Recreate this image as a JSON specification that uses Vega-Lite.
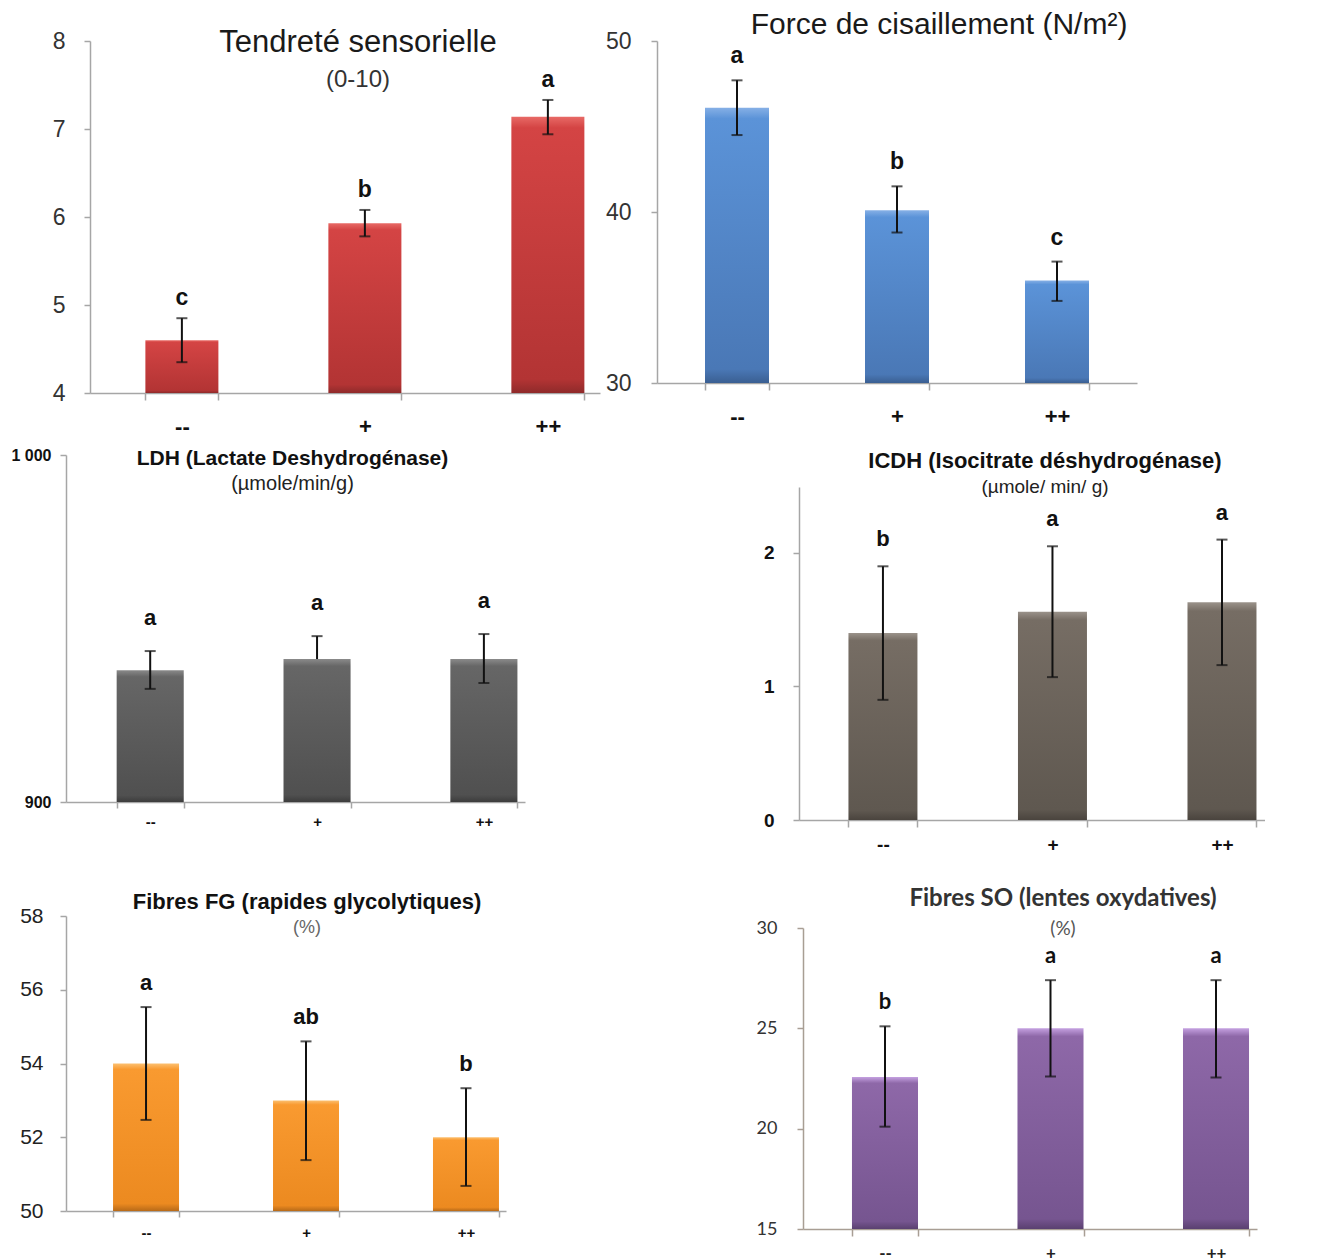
{
  "$schema": "https://vega.github.io/schema/vega-lite/v6.json",
  "background": "white",
  "padding": {"left": 10, "top": 10, "right": 0, "bottom": 0},
  "config": {
    "view": {"stroke": null},
    "axis": {"grid": false, "domainColor": "#a6a6a6", "tickColor": "#a6a6a6", "domainWidth": 1.5, "tickWidth": 1.5, "labelFont": "Liberation Sans", "labelColor": "#222", "labelOverlap": false},
    "title": {"anchor": "middle", "frame": "group", "font": "Liberation Sans", "subtitleFont": "Liberation Sans"}
  },
  "datasets": {
    "tend": [
      {"g": "--", "v": 4.6, "lo": 4.35, "hi": 4.85, "l": "c"},
      {"g": "+", "v": 5.93, "lo": 5.78, "hi": 6.08, "l": "b"},
      {"g": "++", "v": 7.14, "lo": 6.94, "hi": 7.33, "l": "a"}
    ],
    "force": [
      {"g": "--", "v": 46.1, "lo": 44.5, "hi": 47.7, "l": "a"},
      {"g": "+", "v": 40.1, "lo": 38.8, "hi": 41.5, "l": "b"},
      {"g": "++", "v": 36.0, "lo": 34.8, "hi": 37.1, "l": "c"}
    ],
    "ldh": [
      {"g": "--", "v": 938.0, "lo": 932.6, "hi": 943.5, "l": "a"},
      {"g": "+", "v": 941.2, "lo": 941.2, "hi": 947.8, "l": "a"},
      {"g": "++", "v": 941.2, "lo": 934.3, "hi": 948.4, "l": "a"}
    ],
    "icdh": [
      {"g": "--", "v": 1.40, "lo": 0.90, "hi": 1.90, "l": "b"},
      {"g": "+", "v": 1.56, "lo": 1.07, "hi": 2.05, "l": "a"},
      {"g": "++", "v": 1.63, "lo": 1.16, "hi": 2.10, "l": "a"}
    ],
    "fg": [
      {"g": "--", "v": 54.0, "lo": 52.47, "hi": 55.53, "l": "a"},
      {"g": "+", "v": 53.0, "lo": 51.38, "hi": 54.6, "l": "ab"},
      {"g": "++", "v": 52.0, "lo": 50.68, "hi": 53.33, "l": "b"}
    ],
    "so": [
      {"g": "--", "v": 22.57, "lo": 20.1, "hi": 25.1, "l": "b"},
      {"g": "+", "v": 25.0, "lo": 22.6, "hi": 27.4, "l": "a"},
      {"g": "++", "v": 25.0, "lo": 22.55, "hi": 27.4, "l": "a"}
    ]
  },
  "bounds": "flush",
  "align": "each",
  "columns": 2,
  "spacing": {"row": 62, "column": 57},
  "concat": [
    {
      "width": 534, "height": 352,
      "data": {"name": "tend"},
      "title": {"text": "Tendreté sensorielle", "subtitle": "(0-10)", "fontSize": 31, "fontWeight": "normal", "color": "#1a1a1a", "subtitleFontSize": 24, "subtitleColor": "#333", "subtitlePadding": 9, "offset": -63, "dx": 25},
      "encoding": {
        "x": {"field": "g", "type": "nominal", "sort": ["--", "+", "++"], "title": null,
          "scale": {"range": [24, 534], "paddingInner": 0.601, "paddingOuter": 0.194, "align": 0.78},
          "axis": {"labelAngle": 0, "labelFontSize": 22, "labelFontWeight": "bold", "labelColor": "#111", "tickBand": "extent", "tickSize": 7, "labelPadding": 16}}
      },
      "layer": [
        {"mark": {"type": "bar", "color": {"gradient": "linear", "x1": 0, "y1": 0, "x2": 0, "y2": 1, "stops": [{"offset": 0, "color": "#e86a66"}, {"offset": 0.04, "color": "#d44444"}, {"offset": 0.95, "color": "#b33434"}, {"offset": 1, "color": "#8f2a2a"}]}},
          "encoding": {"y": {"field": "v", "type": "quantitative", "title": null, "scale": {"domain": [4, 8], "zero": false, "nice": false},
            "axis": {"values": [4, 5, 6, 7, 8], "format": "d", "offset": -24, "labelFontSize": 23, "labelColor": "#333", "tickSize": 6, "labelPadding": 19}},
            "y2": {"datum": 4}}},
        {"mark": {"type": "rule", "color": "#111", "strokeWidth": 2}, "encoding": {"y": {"field": "lo", "type": "quantitative", "title": null}, "y2": {"field": "hi"}}},
        {"mark": {"type": "tick", "color": "#111", "size": 11, "thickness": 2}, "encoding": {"y": {"field": "lo", "type": "quantitative", "title": null}}},
        {"mark": {"type": "tick", "color": "#111", "size": 11, "thickness": 2}, "encoding": {"y": {"field": "hi", "type": "quantitative", "title": null}}},
        {"mark": {"type": "text", "font": "Liberation Sans", "fontSize": 23, "fontWeight": "bold", "color": "#111", "dy": -20}, "encoding": {"y": {"field": "hi", "type": "quantitative", "title": null}, "text": {"field": "l"}}}
      ]
    },
    {
      "width": 480, "height": 342,
      "data": {"name": "force"},
      "title": {"text": "Force de cisaillement (N/m²)", "fontSize": 30, "fontWeight": "normal", "color": "#1a1a1a", "offset": -10, "dx": 42},
      "encoding": {
        "x": {"field": "g", "type": "nominal", "sort": ["--", "+", "++"], "title": null,
          "scale": {"paddingInner": 0.6, "paddingOuter": 0.3},
          "axis": {"labelAngle": 0, "labelFontSize": 22, "labelFontWeight": "bold", "labelColor": "#111", "tickBand": "extent", "tickSize": 7, "labelPadding": 16}}
      },
      "layer": [
        {"mark": {"type": "bar", "color": {"gradient": "linear", "x1": 0, "y1": 0, "x2": 0, "y2": 1, "stops": [{"offset": 0, "color": "#86b0e6"}, {"offset": 0.04, "color": "#5b93d8"}, {"offset": 0.95, "color": "#4a78b6"}, {"offset": 1, "color": "#3a5f92"}]}},
          "encoding": {"y": {"field": "v", "type": "quantitative", "title": null, "scale": {"domain": [30, 50], "zero": false, "nice": false},
            "axis": {"values": [30, 40, 50], "format": "d", "labelFontSize": 23, "labelColor": "#333", "tickSize": 6, "labelPadding": 20}},
            "y2": {"datum": 30}}},
        {"mark": {"type": "rule", "color": "#111", "strokeWidth": 2}, "encoding": {"y": {"field": "lo", "type": "quantitative", "title": null}, "y2": {"field": "hi"}}},
        {"mark": {"type": "tick", "color": "#111", "size": 11, "thickness": 2}, "encoding": {"y": {"field": "lo", "type": "quantitative", "title": null}}},
        {"mark": {"type": "tick", "color": "#111", "size": 11, "thickness": 2}, "encoding": {"y": {"field": "hi", "type": "quantitative", "title": null}}},
        {"mark": {"type": "text", "font": "Liberation Sans", "fontSize": 23, "fontWeight": "bold", "color": "#111", "dy": -24}, "encoding": {"y": {"field": "hi", "type": "quantitative", "title": null}, "text": {"field": "l"}}}
      ]
    },
    {
      "width": 459, "height": 347,
      "data": {"name": "ldh"},
      "title": {"text": "LDH (Lactate Deshydrogénase)", "subtitle": "(µmole/min/g)", "fontSize": 21, "fontWeight": "bold", "color": "#111", "subtitleFontSize": 20, "subtitleColor": "#222", "subtitlePadding": 5, "offset": -47, "dx": -3},
      "encoding": {
        "x": {"field": "g", "type": "nominal", "sort": ["--", "+", "++"], "title": null,
          "scale": {"paddingInner": 0.598, "paddingOuter": 0.1745, "align": 0.87},
          "axis": {"labelAngle": 0, "labelFontSize": 15, "labelFontWeight": "bold", "labelColor": "#111", "tickBand": "extent", "tickSize": 6, "labelPadding": 6}}
      },
      "layer": [
        {"mark": {"type": "bar", "color": {"gradient": "linear", "x1": 0, "y1": 0, "x2": 0, "y2": 1, "stops": [{"offset": 0, "color": "#8a8a8a"}, {"offset": 0.05, "color": "#666666"}, {"offset": 0.95, "color": "#505050"}, {"offset": 1, "color": "#3c3c3c"}]}},
          "encoding": {"y": {"field": "v", "type": "quantitative", "title": null, "scale": {"domain": [900, 1000], "zero": false, "nice": false},
            "axis": {"values": [900, 1000], "format": "d", "labelExpr": "datum.value == 1000 ? '1 000' : datum.label", "labelFontSize": 16, "labelFontWeight": "bold", "labelColor": "#111", "tickSize": 6, "labelPadding": 9}},
            "y2": {"datum": 900}}},
        {"mark": {"type": "rule", "color": "#111", "strokeWidth": 2}, "encoding": {"y": {"field": "lo", "type": "quantitative", "title": null}, "y2": {"field": "hi"}}},
        {"transform": [{"filter": "datum.lo < datum.v"}], "mark": {"type": "tick", "color": "#111", "size": 11, "thickness": 2}, "encoding": {"y": {"field": "lo", "type": "quantitative", "title": null}}},
        {"mark": {"type": "tick", "color": "#111", "size": 11, "thickness": 2}, "encoding": {"y": {"field": "hi", "type": "quantitative", "title": null}}},
        {"mark": {"type": "text", "font": "Liberation Sans", "fontSize": 22, "fontWeight": "bold", "color": "#111", "dy": -33}, "encoding": {"y": {"field": "hi", "type": "quantitative", "title": null}, "text": {"field": "l"}}}
      ]
    },
    {
      "width": 608, "height": 365,
      "data": {"name": "icdh"},
      "title": {"text": "ICDH (Isocitrate déshydrogénase)", "subtitle": "(µmole/ min/ g)", "fontSize": 22, "fontWeight": "bold", "color": "#111", "subtitleFontSize": 19, "subtitleColor": "#222", "subtitlePadding": 5, "offset": -43, "dx": 84},
      "encoding": {
        "x": {"field": "g", "type": "nominal", "sort": ["--", "+", "++"], "title": null,
          "scale": {"range": [142, 608], "paddingInner": 0.593, "paddingOuter": 0.171, "align": 0.853},
          "axis": {"labelAngle": 0, "labelFontSize": 19, "labelFontWeight": "bold", "labelColor": "#111", "tickBand": "extent", "tickSize": 7, "labelPadding": 8}}
      },
      "layer": [
        {"mark": {"type": "bar", "color": {"gradient": "linear", "x1": 0, "y1": 0, "x2": 0, "y2": 1, "stops": [{"offset": 0, "color": "#9a928a"}, {"offset": 0.04, "color": "#766d64"}, {"offset": 0.95, "color": "#5f5850"}, {"offset": 1, "color": "#4a443e"}]}},
          "encoding": {"y": {"field": "v", "type": "quantitative", "title": null, "scale": {"domain": [0, 2.494], "range": [365, 32], "zero": false, "nice": false},
            "axis": {"values": [0, 1, 2], "format": "d", "offset": -142, "labelFontSize": 19, "labelFontWeight": "bold", "labelColor": "#111", "tickSize": 6, "labelPadding": 19}},
            "y2": {"datum": 0}}},
        {"mark": {"type": "rule", "color": "#111", "strokeWidth": 2}, "encoding": {"y": {"field": "lo", "type": "quantitative", "title": null}, "y2": {"field": "hi"}}},
        {"mark": {"type": "tick", "color": "#111", "size": 11, "thickness": 2}, "encoding": {"y": {"field": "lo", "type": "quantitative", "title": null}}},
        {"mark": {"type": "tick", "color": "#111", "size": 11, "thickness": 2}, "encoding": {"y": {"field": "hi", "type": "quantitative", "title": null}}},
        {"mark": {"type": "text", "font": "Liberation Sans", "fontSize": 22, "fontWeight": "bold", "color": "#111", "dy": -27}, "encoding": {"y": {"field": "hi", "type": "quantitative", "title": null}, "text": {"field": "l"}}}
      ]
    },
    {
      "width": 440, "height": 329,
      "data": {"name": "fg"},
      "title": {"text": "Fibres FG (rapides glycolytiques)", "subtitle": "(%)", "fontSize": 22, "fontWeight": "bold", "color": "#111", "subtitleFontSize": 18, "subtitleColor": "#666", "subtitlePadding": 5, "offset": -56, "dx": 21},
      "encoding": {
        "x": {"field": "g", "type": "nominal", "sort": ["--", "+", "++"], "title": null,
          "scale": {"paddingInner": 0.5875, "paddingOuter": 0.169, "align": 0.87},
          "axis": {"labelAngle": 0, "labelFontSize": 15, "labelFontWeight": "bold", "labelColor": "#111", "tickBand": "extent", "tickSize": 6, "labelPadding": 8}}
      },
      "layer": [
        {"mark": {"type": "bar", "color": {"gradient": "linear", "x1": 0, "y1": 0, "x2": 0, "y2": 1, "stops": [{"offset": 0, "color": "#fcc070"}, {"offset": 0.04, "color": "#f99a30"}, {"offset": 0.95, "color": "#ec8a20"}, {"offset": 1, "color": "#b86a18"}]}},
          "encoding": {"y": {"field": "v", "type": "quantitative", "title": null, "scale": {"domain": [50, 58], "range": [329, 34], "zero": false, "nice": false},
            "axis": {"values": [50, 52, 54, 56, 58], "format": "d", "labelFontSize": 21, "labelColor": "#222", "tickSize": 6, "labelPadding": 17}},
            "y2": {"datum": 50}}},
        {"mark": {"type": "rule", "color": "#111", "strokeWidth": 2}, "encoding": {"y": {"field": "lo", "type": "quantitative", "title": null}, "y2": {"field": "hi"}}},
        {"mark": {"type": "tick", "color": "#111", "size": 11, "thickness": 2}, "encoding": {"y": {"field": "lo", "type": "quantitative", "title": null}}},
        {"mark": {"type": "tick", "color": "#111", "size": 11, "thickness": 2}, "encoding": {"y": {"field": "hi", "type": "quantitative", "title": null}}},
        {"mark": {"type": "text", "font": "Liberation Sans", "fontSize": 22, "fontWeight": "bold", "color": "#111", "dy": -24}, "encoding": {"y": {"field": "hi", "type": "quantitative", "title": null}, "text": {"field": "l"}}}
      ]
    },
    {
      "width": 600, "height": 347,
      "data": {"name": "so"},
      "title": {"text": "Fibres SO (lentes oxydatives)", "subtitle": "(%)", "font": "Lato", "subtitleFont": "Lato", "fontSize": 24, "fontWeight": "bold", "color": "#333", "subtitleFontSize": 19, "subtitleColor": "#555", "subtitlePadding": 9, "offset": -57, "dx": 106},
      "encoding": {
        "x": {"field": "g", "type": "nominal", "sort": ["--", "+", "++"], "title": null,
          "scale": {"range": [146, 600], "paddingInner": 0.601, "paddingOuter": 0.172, "align": 0.86},
          "axis": {"labelAngle": 0, "labelFontSize": 17, "labelFont": "Lato", "labelFontWeight": "bold", "labelColor": "#222", "tickBand": "extent", "tickSize": 7, "labelPadding": 9, "domainColor": "#a89e94", "tickColor": "#a89e94"}}
      },
      "layer": [
        {"mark": {"type": "bar", "color": {"gradient": "linear", "x1": 0, "y1": 0, "x2": 0, "y2": 1, "stops": [{"offset": 0, "color": "#c4a0e0"}, {"offset": 0.04, "color": "#8e68a8"}, {"offset": 0.95, "color": "#765590"}, {"offset": 1, "color": "#5a4070"}]}},
          "encoding": {"y": {"field": "v", "type": "quantitative", "title": null, "scale": {"domain": [15, 30], "range": [347, 46], "zero": false, "nice": false},
            "axis": {"values": [15, 20, 25, 30], "format": "d", "offset": -146, "labelFont": "Lato", "labelFontSize": 18, "labelColor": "#333", "tickSize": 6, "labelPadding": 20, "domainColor": "#a89e94", "tickColor": "#a89e94"}},
            "y2": {"datum": 15}}},
        {"mark": {"type": "rule", "color": "#111", "strokeWidth": 2}, "encoding": {"y": {"field": "lo", "type": "quantitative", "title": null}, "y2": {"field": "hi"}}},
        {"mark": {"type": "tick", "color": "#111", "size": 11, "thickness": 2}, "encoding": {"y": {"field": "lo", "type": "quantitative", "title": null}}},
        {"mark": {"type": "tick", "color": "#111", "size": 11, "thickness": 2}, "encoding": {"y": {"field": "hi", "type": "quantitative", "title": null}}},
        {"mark": {"type": "text", "font": "Lato", "fontSize": 22, "fontWeight": "bold", "color": "#111", "dy": -24}, "encoding": {"y": {"field": "hi", "type": "quantitative", "title": null}, "text": {"field": "l"}}}
      ]
    }
  ]
}
